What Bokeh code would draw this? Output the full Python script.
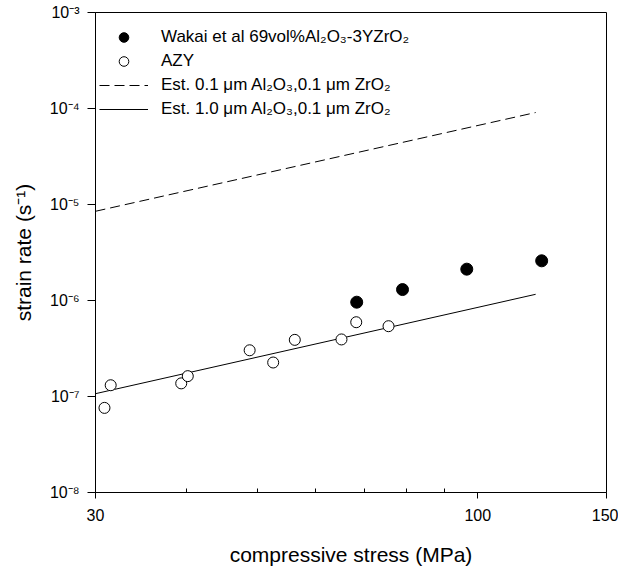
from bokeh.plotting import figure
from bokeh.models import FixedTicker, Legend, LegendItem
from bokeh.embed import file_html
from bokeh.resources import INLINE

# ---- data ----
stress_wakai = [68.3, 78.9, 96.6, 122.3]
rate_wakai = [9.6e-7, 1.30e-6, 2.12e-6, 2.59e-6]

stress_azy = [30.86, 31.47, 39.30, 40.12, 48.75, 52.5, 56.2, 65.1, 68.2, 75.5]
rate_azy = [7.61e-8, 1.31e-7, 1.37e-7, 1.63e-7, 3.03e-7, 2.26e-7, 3.89e-7, 3.93e-7, 5.94e-7, 5.40e-7]

stress_est = [30, 120]
rate_est_01 = [8.5e-6, 9.08e-5]
rate_est_10 = [1.07e-7, 1.16e-6]

y_ticks = [1e-8, 1e-7, 1e-6, 1e-5, 1e-4, 1e-3]
y_tick_labels = ["10\u207b\u2078", "10\u207b\u2077", "10\u207b\u2076", "10\u207b\u2075", "10\u207b\u2074", "10\u207b\u00b3"]
x_ticks = [30, 100, 150]
x_tick_labels = ["30", "100", "150"]
x_minor = [40, 50, 60, 70, 80, 90]

FONT = "Liberation Sans"

p = figure(width=618, height=569, x_axis_type="log", y_axis_type="log",
           x_range=(30, 150), y_range=(1e-8, 1e-3),
           output_backend="svg", toolbar_location=None,
           min_border_left=95, min_border_right=12, min_border_top=12, min_border_bottom=77)
p.xgrid.visible = False
p.ygrid.visible = False
p.outline_line_color = "black"
p.outline_line_width = 1
p.background_fill_color = "white"
p.border_fill_color = "white"

# x axis
xa = p.xaxis[0]
xa.ticker = FixedTicker(ticks=x_ticks, minor_ticks=x_minor)
xa.major_label_overrides = {t: s for t, s in zip(x_ticks, x_tick_labels)}
xa.major_tick_out = 6
xa.major_tick_in = 0
xa.minor_tick_in = 4
xa.minor_tick_out = 0
xa.major_label_standoff = 10
xa.major_label_text_font = FONT
xa.major_label_text_font_size = "16px"
xa.major_label_text_color = "black"
xa.axis_label = "compressive stress (MPa)"
xa.axis_label_text_font = FONT
xa.axis_label_text_font_size = "21px"
xa.axis_label_text_font_style = "normal"
xa.axis_label_text_color = "black"
xa.axis_label_standoff = 19
xa.axis_line_color = "black"

# y axis
ya = p.yaxis[0]
ya.ticker = FixedTicker(ticks=y_ticks, minor_ticks=[])
ya.major_label_overrides = {t: s for t, s in zip(y_ticks, y_tick_labels)}
ya.major_tick_out = 8
ya.major_tick_in = 0
ya.minor_tick_in = 0
ya.minor_tick_out = 0
ya.major_label_standoff = 8
ya.major_label_text_font = FONT
ya.major_label_text_font_size = "16px"
ya.major_label_text_color = "black"
ya.axis_label = "strain rate (s\u207b\u00b9)"
ya.axis_label_text_font = FONT
ya.axis_label_text_font_size = "21px"
ya.axis_label_text_font_style = "normal"
ya.axis_label_text_color = "black"
ya.axis_label_standoff = 12
ya.axis_line_color = "black"

r_est01 = p.line(stress_est, rate_est_01, line_color="black", line_width=1, line_dash="10 5")
r_est10 = p.line(stress_est, rate_est_10, line_color="black", line_width=1)
r_wakai = p.scatter(stress_wakai, rate_wakai, marker="circle", size=12,
                    fill_color="black", line_color="black")
r_azy = p.scatter(stress_azy, rate_azy, marker="circle", size=11,
                  fill_color="white", line_color="black", line_width=1)

legend = Legend(items=[
    LegendItem(label="Wakai et al 69vol%Al\u2082O\u2083-3YZrO\u2082", renderers=[r_wakai]),
    LegendItem(label="AZY", renderers=[r_azy]),
    LegendItem(label="Est. 0.1 \u03bcm Al\u2082O\u2083,0.1 \u03bcm ZrO\u2082", renderers=[r_est01]),
    LegendItem(label="Est. 1.0 \u03bcm Al\u2082O\u2083,0.1 \u03bcm ZrO\u2082", renderers=[r_est10]),
], location=(4, 371))
legend.border_line_color = None
legend.background_fill_alpha = 0
legend.margin = 0
legend.padding = 5
legend.spacing = 0
legend.glyph_width = 49
legend.glyph_height = 24
legend.label_height = 24
legend.label_standoff = 13
legend.label_text_font = FONT
legend.label_text_font_size = "17px"
legend.label_text_color = "black"
p.add_layout(legend)

open("out.html", "w").write(file_html(p, INLINE))
